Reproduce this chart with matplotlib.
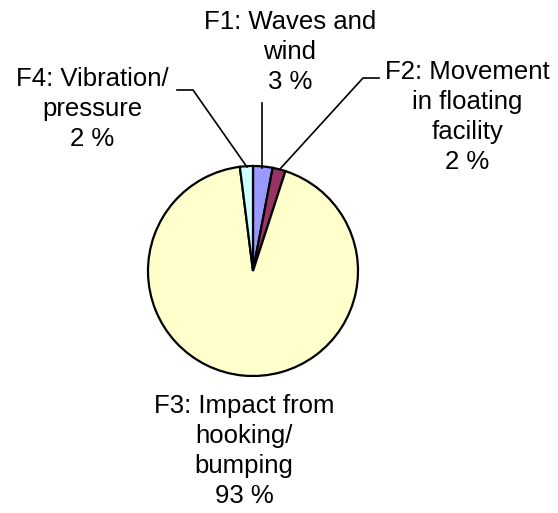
import matplotlib
matplotlib.use("Agg")
import matplotlib.pyplot as plt

# slice data, clockwise from 12 o'clock
labels = ["F1: Waves and\nwind", "F2: Movement\nin floating\nfacility",
          "F3: Impact from\nhooking/\nbumping", "F4: Vibration/\npressure"]
values = [3, 2, 93, 2]
colors = ["#9999FF", "#993366", "#FFFFCC", "#CCFFFF"]

W, H = 558, 513
plt.rcParams["font.family"] = ["Liberation Sans", "DejaVu Sans"]

fig = plt.figure(figsize=(W / 100, H / 100), dpi=100)
ax = fig.add_axes([0, 0, 1, 1])

cx, cy, r = 253, H - 271, 105
ax.pie(values, colors=colors, startangle=90, counterclock=False,
       center=(cx, cy), radius=r, frame=True,
       wedgeprops=dict(edgecolor="black", linewidth=1.6))
ax.set_xlim(0, W)
ax.set_ylim(0, H)
ax.set_aspect("equal")
ax.axis("off")

# label centres (pixel coords, y from top) and leader lines
text_pos = [(290, 52), (467, 117), (244, 451), (92, 109)]
leaders = [
    [(262, 103), (262, 168)],
    [(379, 78), (363, 78), (280, 169)],
    None,
    [(177, 90), (193, 90), (247, 167)],
]
fs = 18.5
for lab, v, (tx, ty), ld in zip(labels, values, text_pos, leaders):
    ax.text(tx, H - ty, f"{lab}\n{v} %", ha="center", va="center",
            fontsize=fs, linespacing=1.3, color="black")
    if ld:
        xs = [p[0] for p in ld]
        ys = [H - p[1] for p in ld]
        ax.plot(xs, ys, color="black", linewidth=1.2)

fig.savefig("out.png", dpi=100)
